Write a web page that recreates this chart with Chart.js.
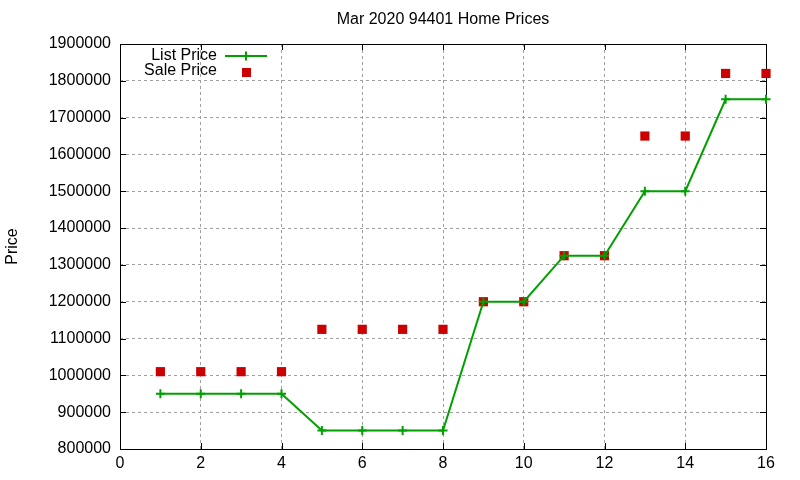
<!DOCTYPE html>
<html>
<head>
<meta charset="utf-8">
<title>Home Prices</title>
<script src="https://cdn.jsdelivr.net/npm/chart.js@4"></script>
<style>
    html, body { margin: 0; padding: 0; background: #fff; }
</style>
</head>
<body>
<canvas id="priceChart" width="800" height="480"></canvas>
<script>
const chartTitle = 'Mar 2020 94401 Home Prices';
const yAxisTitle = 'Price';
const homeIndex = [1, 2, 3, 4, 5, 6, 7, 8, 9, 10, 11, 12, 13, 14, 15, 16];
const listPrice = [950000, 950000, 950000, 950000, 850000, 850000, 850000, 850000,
    1200000, 1200000, 1325000, 1325000, 1500000, 1500000, 1750000, 1750000];
const salePrice = [1010000, 1010000, 1010000, 1010000, 1125000, 1125000, 1125000, 1125000,
    1200000, 1200000, 1325000, 1325000, 1650000, 1650000, 1820000, 1820000];
const xTickValues = [0, 2, 4, 6, 8, 10, 12, 14, 16];
const yTickValues = [800000, 900000, 1000000, 1100000, 1200000, 1300000, 1400000,
    1500000, 1600000, 1700000, 1800000, 1900000];

const FONT = '"Liberation Sans", Arial, sans-serif';
const GREEN = '#00a000';
const RED = '#cc0000';

// Black frame around the plot, gnuplot style, with inward tick marks
const framePlugin = {
    id: 'frame',
    beforeDatasetsDraw(chart) {
        const { ctx, chartArea: a, scales } = chart;
        ctx.save();
        ctx.strokeStyle = '#000';
        ctx.lineWidth = 1;
        ctx.beginPath();
        xTickValues.forEach(v => {
            const px = Math.round(scales.x.getPixelForValue(v)) + 0.5;
            ctx.moveTo(px, a.bottom); ctx.lineTo(px, a.bottom - 6);
            ctx.moveTo(px, a.top); ctx.lineTo(px, a.top + 6);
        });
        yTickValues.forEach(v => {
            const py = Math.round(scales.y.getPixelForValue(v)) + 0.5;
            ctx.moveTo(a.left, py); ctx.lineTo(a.left + 6, py);
            ctx.moveTo(a.right, py); ctx.lineTo(a.right - 6, py);
        });
        ctx.stroke();
        ctx.strokeRect(Math.round(a.left) + 0.5, Math.round(a.top) + 0.5,
            Math.round(a.right - a.left), Math.round(a.bottom - a.top));

        // title centred over the plot area
        ctx.font = '16px ' + FONT;
        ctx.fillStyle = '#000';
        ctx.textAlign = 'center';
        ctx.textBaseline = 'middle';
        ctx.fillText(chartTitle, (a.left + a.right) / 2, 20);
        ctx.restore();
    }
};

// Legend drawn inside the plot, top left
const keyPlugin = {
    id: 'key',
    afterDraw(chart) {
        const { ctx } = chart;
        const textRight = 217;
        const sampleLeft = 225, sampleRight = 267;
        const cx = (sampleLeft + sampleRight) / 2;
        const rows = [56, 71];
        ctx.save();
        ctx.font = '16px ' + FONT;
        ctx.textAlign = 'right';
        ctx.textBaseline = 'middle';
        chart.data.datasets.forEach((ds, i) => {
            const y = rows[i];
            ctx.fillStyle = '#000';
            ctx.fillText(ds.label, textRight, y);
            if (ds.pointStyle === 'rect') {
                const s = Math.round(ds.pointRadius * Math.SQRT2);
                ctx.fillStyle = ds.pointBackgroundColor;
                ctx.fillRect(Math.round(cx - s / 2), Math.round(y + 1 - s / 2), s, s);
                return;
            }
            ctx.strokeStyle = ds.borderColor;
            ctx.lineWidth = ds.borderWidth;
            ctx.beginPath();
            ctx.moveTo(sampleLeft, y);
            ctx.lineTo(sampleRight, y);
            ctx.moveTo(cx, y - ds.pointRadius);
            ctx.lineTo(cx, y + ds.pointRadius);
            ctx.stroke();
        });
        ctx.restore();
    }
};

const ctx = document.getElementById('priceChart').getContext('2d');
new Chart(ctx, {
    type: 'scatter',
    data: {
        datasets: [{
            label: 'List Price',
            data: homeIndex.map((x, i) => ({ x, y: listPrice[i] })),
            showLine: true,
            borderColor: GREEN,
            borderWidth: 2,
            pointStyle: 'cross',
            pointRadius: 4.5,
            pointBorderColor: GREEN,
            pointBorderWidth: 2,
            tension: 0,
            clip: false
        }, {
            label: 'Sale Price',
            data: homeIndex.map((x, i) => ({ x, y: salePrice[i] })),
            showLine: false,
            pointStyle: 'rect',
            pointRadius: 6.5,
            pointBackgroundColor: RED,
            pointBorderColor: RED,
            pointBorderWidth: 0,
            clip: false
        }]
    },
    options: {
        responsive: false,
        animation: false,
        layout: { padding: { left: 0, right: 34, top: 44, bottom: 0 } },
        plugins: {
            legend: { display: false },
            tooltip: { enabled: false },
            title: { display: false }
        },
        scales: {
            x: {
                type: 'linear',
                min: xTickValues[0],
                max: xTickValues[xTickValues.length - 1],
                afterBuildTicks: scale => { scale.ticks = xTickValues.map(v => ({ value: v })); },
                afterFit: scale => { scale.height = 31; },
                ticks: {
                    color: '#000',
                    padding: 5,
                    maxRotation: 0,
                    font: { family: FONT, size: 16 }
                },
                grid: {
                    color: '#a0a0a0',
                    lineWidth: 1,
                    drawTicks: false
                },
                border: { display: false, dash: [3, 3] }
            },
            y: {
                min: yTickValues[0],
                max: yTickValues[yTickValues.length - 1],
                afterBuildTicks: scale => { scale.ticks = yTickValues.map(v => ({ value: v })); },
                afterFit: scale => { scale.width = 120; },
                ticks: {
                    color: '#000',
                    padding: 9,
                    font: { family: FONT, size: 16 },
                    callback: v => String(v)
                },
                grid: {
                    color: '#a0a0a0',
                    lineWidth: 1,
                    drawTicks: false
                },
                border: { display: false, dash: [3, 3] },
                title: {
                    display: true,
                    text: yAxisTitle,
                    color: '#000',
                    font: { family: FONT, size: 16 },
                    padding: { top: 3, bottom: 0 }
                }
            }
        }
    },
    plugins: [framePlugin, keyPlugin]
});
</script>
</body>
</html>
